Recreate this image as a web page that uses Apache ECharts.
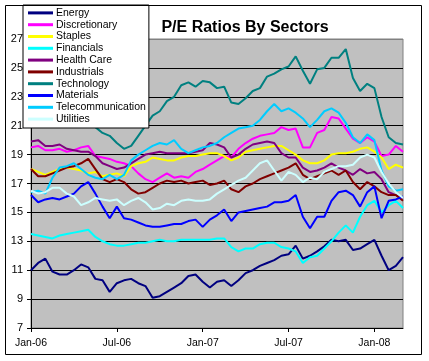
<!DOCTYPE html>
<html>
<head>
<meta charset="utf-8">
<script src="https://cdn.jsdelivr.net/npm/echarts@6/dist/echarts.min.js"></script>
<style>
html,body{margin:0;padding:0;background:#fff;}
#c{width:429px;height:361px;}
</style>
</head>
<body>
<div id="c"></div>
<script>
var categories = [
 '2006-01-01','2006-01-16','2006-02-01','2006-02-16','2006-03-01','2006-03-16','2006-04-01','2006-04-16','2006-05-01','2006-05-16','2006-06-01','2006-06-16',
 '2006-07-01','2006-07-16','2006-08-01','2006-08-16','2006-09-01','2006-09-16','2006-10-01','2006-10-16','2006-11-01','2006-11-16','2006-12-01','2006-12-16',
 '2007-01-01','2007-01-16','2007-02-01','2007-02-16','2007-03-01','2007-03-16','2007-04-01','2007-04-16','2007-05-01','2007-05-16','2007-06-01','2007-06-16',
 '2007-07-01','2007-07-16','2007-08-01','2007-08-16','2007-09-01','2007-09-16','2007-10-01','2007-10-16','2007-11-01','2007-11-16','2007-12-01','2007-12-16',
 '2008-01-01','2008-01-16','2008-02-01','2008-02-16','2008-03-01'
];
var xTickLabels = ['Jan-06','Jul-06','Jan-07','Jul-07','Jan-08'];
var yTicks = [7, 27, 2];

var seriesNames = ['Energy','Discretionary','Staples','Financials','Health Care','Industrials','Technology','Materials','Telecommunication','Utilities'];

var energy = [11.0,11.5,11.8,10.9,10.7,10.7,11.0,11.4,11.2,10.4,10.3,9.5,10.1,10.3,10.4,10.1,9.9,9.1,9.2,9.5,9.8,10.1,10.6,10.7,10.2,9.8,10.2,10.3,9.9,10.3,10.8,11.0,11.3,11.5,11.7,12.0,12.1,12.7,11.8,12.0,12.3,12.65,13.1,13.0,13.1,12.4,12.5,12.8,13.1,12.0,11.0,11.3,11.9];
var discretionary = [19.5,19.6,19.3,19.3,19.4,19.2,19.3,19.5,19.6,18.9,18.8,18.7,18.5,18.4,18.2,17.7,17.3,17.1,17.4,17.7,17.4,17.5,17.4,17.8,18.0,18.3,18.6,18.9,18.8,19.4,19.8,20.1,20.3,20.4,20.5,20.9,20.7,20.8,19.5,19.5,20.5,20.7,21.6,21.5,20.8,20.1,19.8,20.2,19.9,18.9,19.0,19.6,19.2];
var staples = [18.0,17.8,17.6,17.8,18.0,18.1,18.0,17.9,17.7,17.8,17.5,17.6,17.7,17.5,18.2,18.4,18.5,18.8,18.7,18.6,18.6,18.8,18.9,18.9,19.0,19.1,19.1,18.9,18.6,18.8,19.2,19.3,19.4,19.5,19.6,19.6,19.3,19.0,18.6,18.4,18.4,18.6,19.0,19.1,19.1,19.2,19.4,19.5,19.2,18.8,18.0,18.3,18.1];
var financials = [13.5,13.4,13.3,13.2,13.4,13.5,13.6,13.7,13.8,13.3,13.0,12.8,12.7,12.7,12.8,12.9,12.9,13.0,13.1,13.0,13.0,13.1,13.1,13.1,13.1,13.1,13.2,13.2,12.6,12.3,12.5,12.5,12.8,12.9,12.9,12.6,12.5,12.3,11.5,11.9,12.0,12.5,13.0,13.6,14.1,13.6,14.7,15.5,15.8,15.0,15.5,15.8,15.3];
var healthCare = [19.9,20.0,19.6,19.6,19.7,19.4,19.3,19.2,19.2,18.9,18.4,18.2,18.0,18.1,18.4,18.7,19.0,19.1,19.2,19.1,19.1,19.1,19.1,19.2,19.3,19.8,19.7,19.5,18.8,19.0,19.4,19.7,19.8,19.9,19.8,19.1,18.8,18.8,18.1,17.8,17.9,18.1,18.4,18.1,17.9,17.6,18.0,17.7,17.8,17.3,16.4,16.2,16.0];
var industrials = [18.0,17.5,17.5,17.7,17.9,18.1,18.2,18.4,18.7,18.0,17.3,17.1,17.3,17.1,16.6,16.3,16.4,16.7,17.0,17.2,17.1,17.2,17.0,17.1,17.2,16.9,17.0,17.2,16.6,16.4,16.8,17.0,17.3,17.5,17.7,17.9,18.1,18.4,17.6,17.3,17.5,17.7,17.9,17.6,17.9,17.1,16.6,17.1,16.8,16.4,16.2,16.2,15.8];
var technology = [21.8,22.3,22.8,22.5,23.0,22.7,22.2,21.6,21.3,20.9,20.5,20.3,19.8,19.4,19.6,20.3,21.0,21.7,22.0,22.7,23.0,23.8,24.0,23.7,24.1,24.0,23.6,23.7,22.6,22.5,22.9,23.4,23.6,24.4,24.6,24.9,25.1,25.8,24.8,23.9,24.9,25.0,25.7,25.7,26.3,24.3,23.4,23.9,23.6,21.6,20.2,19.8,19.7];
var materials = [16.2,15.7,15.9,16.0,15.9,16.1,16.3,16.8,17.1,16.3,15.4,14.6,15.4,14.6,14.5,14.3,14.1,14.0,14.0,14.1,14.2,14.2,14.4,14.5,14.0,14.5,14.8,15.2,14.4,15.0,15.1,15.2,15.3,15.4,15.7,15.7,15.8,16.2,14.7,13.9,14.7,14.7,15.8,16.4,16.5,16.2,15.4,16.4,16.8,14.6,15.8,15.9,16.1];
var telecommunication = [16.4,16.5,16.3,17.4,18.1,18.2,18.4,18.0,17.6,17.4,17.3,17.6,17.3,17.6,18.6,19.0,19.3,19.6,19.8,19.7,20.0,19.4,19.1,19.3,19.5,19.6,19.8,20.2,20.5,20.8,20.9,21.0,21.4,22.0,22.5,22.0,22.2,21.9,21.5,20.9,21.4,22.0,22.2,21.9,21.2,20.2,19.8,20.4,20.0,17.9,16.8,16.5,16.6];
var utilities = [16.5,16.3,16.4,16.7,16.7,16.3,16.1,15.5,15.7,16.0,15.9,15.8,15.9,15.5,15.8,16.0,15.7,15.2,15.3,15.6,15.5,15.8,15.9,15.8,15.8,15.9,16.3,16.6,16.9,17.2,17.4,17.9,18.4,18.6,17.9,17.2,17.8,17.6,17.1,17.4,17.3,17.8,18.0,18.2,18.2,18.3,18.8,19.0,18.8,17.8,17.0,16.4,16.0];

var seriesValues = [energy, discretionary, staples, financials, healthCare, industrials, technology, materials, telecommunication, utilities];
var seriesColors = ['#000080','#FF00FF','#FFFF00','#00FFFF','#800080','#800000','#008080','#0000FF','#00CCFF','#CCFFFF'];

var FONT = 'Arial, "Liberation Sans", sans-serif';
var chart = echarts.init(document.getElementById('c'), null, {renderer: 'canvas'});

var series = seriesNames.map(function (n, i) {
  return {
    name: n,
    type: 'line',
    data: seriesValues[i],
    symbol: 'none',
    smooth: false,
    itemStyle: {color: seriesColors[i]},
    lineStyle: {color: seriesColors[i], width: 2},
    emphasis: {disabled: true}
  };
});

var splitColors = [];
for (var v = yTicks[0]; v <= yTicks[1]; v += yTicks[2]) {
  splitColors.push(v === yTicks[1] ? '#808080' : '#000000');
}

function tickShown(index) { return index % 12 === 0; }

chart.setOption({
  animation: false,
  backgroundColor: '#ffffff',
  title: {
    text: 'P/E Ratios By Sectors',
    left: 240, top: 15,
    textAlign: 'center',
    textStyle: {fontFamily: FONT, fontSize: 16, fontWeight: 'bold', color: '#000'}
  },
  legend: {
    orient: 'vertical',
    left: 23, top: 5,
    padding: [2, 3, 3, 5],
    itemGap: 0,
    itemWidth: 25,
    itemHeight: 3,
    icon: 'rect',
    backgroundColor: '#ffffff',
    borderColor: '#000000',
    borderWidth: 1,
    textStyle: {fontFamily: FONT, fontSize: 10.5, color: '#000', lineHeight: 11.8, padding: [0, 0, 0, -2]},
    data: seriesNames
  },
  grid: {
    left: 31, top: 39, width: 372, height: 289,
    show: true, backgroundColor: '#C0C0C0', borderColor: '#808080', borderWidth: 1
  },
  xAxis: {
    type: 'category',
    data: categories,
    boundaryGap: false,
    axisLine: {show: true, lineStyle: {color: '#000', width: 1}},
    axisTick: {show: true, interval: tickShown, length: 4, lineStyle: {color: '#000'}},
    axisLabel: {
      interval: tickShown,
      margin: 10,
      fontFamily: FONT, fontSize: 10.5, color: '#000',
      formatter: function (val, idx) { return xTickLabels[idx / 12] || ''; }
    },
    splitLine: {show: false}
  },
  yAxis: {
    type: 'value',
    min: yTicks[0], max: yTicks[1], interval: yTicks[2],
    axisLine: {show: true, lineStyle: {color: '#000', width: 1}},
    axisTick: {show: true, length: 4, lineStyle: {color: '#000'}},
    axisLabel: {margin: 8, fontFamily: FONT, fontSize: 11, color: '#000'},
    splitLine: {show: true, lineStyle: {color: splitColors, width: 1}}
  },
  graphic: [{
    type: 'rect',
    shape: {x: 5.5, y: 5.5, width: 416, height: 349},
    style: {fill: null, stroke: '#000', lineWidth: 1},
    silent: true, z: 100
  }],
  series: series
});
</script>
</body>
</html>
